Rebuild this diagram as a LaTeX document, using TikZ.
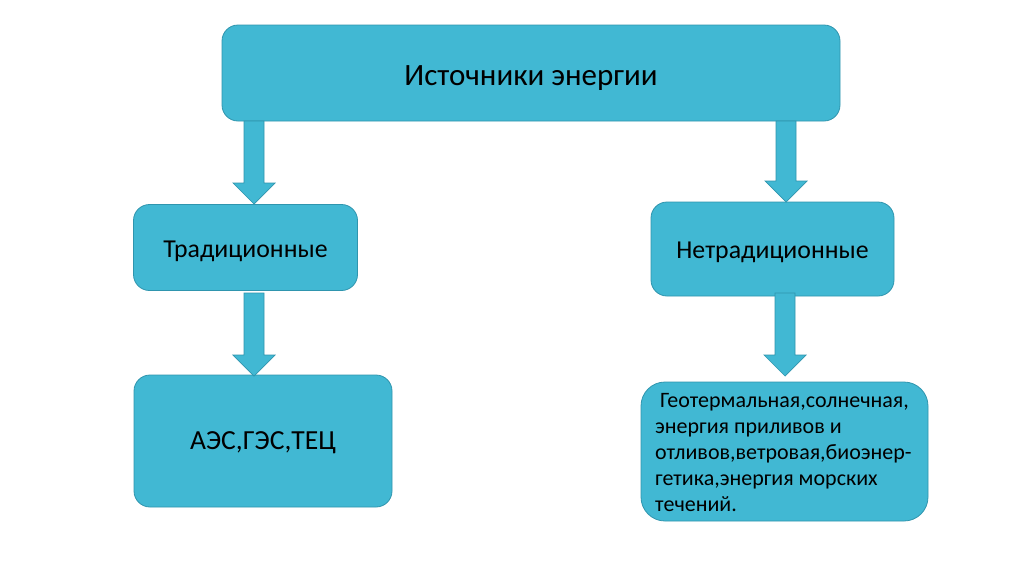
\documentclass[tikz,border=0pt]{standalone}
\usepackage{fontspec}
\setmainfont{Carlito}
\usetikzlibrary{calc}
\definecolor{boxfill}{HTML}{41B8D3}
\definecolor{boxline}{HTML}{2F95AE}
\tikzset{
  box/.style={draw=boxline, fill=boxfill, line width=0.8pt, rounded corners=16pt, inner sep=0pt, text=black},
  boxtext/.style={inner sep=0pt, text=black},
  barrow/.style={draw=boxline, fill=boxfill, line width=0.7pt}
}
\newcommand\blockarr[2]{%
  \draw[barrow] let \p1=(#1), \p2=(#2) in
    (\x1-10pt,\y1) -- (\x1+10pt,\y1) -- (\x1+10pt,\y2+21pt) -- (\x1+21pt,\y2+21pt)
    -- (\x1,\y2) -- (\x1-21pt,\y2+21pt) -- (\x1-10pt,\y2+21pt) -- cycle;}
\begin{document}
\begin{tikzpicture}[x=1pt,y=-1pt]
\useasboundingbox[fill=white] (0,0) rectangle (1024,574);
\node[box, minimum width=618pt, minimum height=96pt] (top) at (531,73) {};
\node[boxtext, font=\fontsize{31}{36}\selectfont] (toptext) at ([yshift=-5.5pt]top.center) {Источники энергии};
\node[box, minimum width=224pt, minimum height=86pt] (trad) at (245.5,247.5) {};
\node[boxtext, font=\fontsize{25.8}{30}\selectfont] (tradtext) at ([yshift=-3.5pt]trad.center) {Традиционные};
\node[box, minimum width=243pt, minimum height=94pt] (nontrad) at (772.5,249) {};
\node[boxtext, font=\fontsize{25.8}{30}\selectfont] (nontradtext) at ([yshift=-3.5pt]nontrad.center) {Нетрадиционные};
\node[box, minimum width=258pt, minimum height=132pt] (aes) at (263,441) {};
\node[boxtext, font=\fontsize{27.6}{32}\selectfont] (aestext) at ([yshift=-1.5pt]aes.center) {АЭС,ГЭС,ТЕЦ};
\node[box, rounded corners=24pt, minimum width=287pt, minimum height=139pt] (geo) at (784.5,451.5) {};
\node[anchor=north west, align=left, inner sep=0pt, font=\fontsize{22}{26}\selectfont] (geotext) at (655,393) {\ Геотермальная,солнечная,\\энергия приливов и\\отливов,ветровая,биоэнер-\\гетика,энергия морских\\течений.};
\coordinate (a1s) at (254,121); \coordinate (a1e) at (254,204);
\coordinate (a2s) at (786,121); \coordinate (a2e) at (786,202);
\coordinate (a3s) at (254,293); \coordinate (a3e) at (254,376);
\coordinate (a4s) at (785,293); \coordinate (a4e) at (785,376);
\blockarr{a1s}{a1e}
\blockarr{a2s}{a2e}
\blockarr{a3s}{a3e}
\blockarr{a4s}{a4e}
\end{tikzpicture}
\end{document}
